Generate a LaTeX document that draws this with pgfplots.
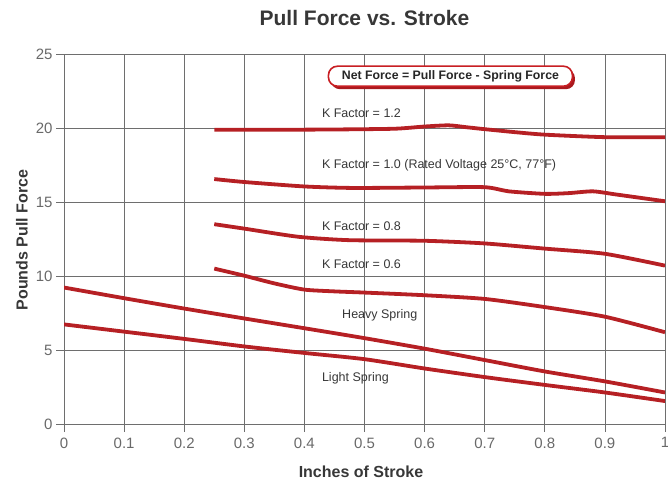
\documentclass[border=0pt]{standalone}
\usepackage{pgfplots}
\pgfplotsset{compat=1.18}
\usepackage{fontspec}
\setmainfont{Liberation Sans}
\usetikzlibrary{shadows}
\definecolor{curvered}{RGB}{182,32,36}
\definecolor{gridgray}{RGB}{110,110,110}
\definecolor{ticktext}{RGB}{105,105,105}
\definecolor{labeltext}{RGB}{55,55,55}
\definecolor{boxred}{RGB}{200,30,35}
\begin{document}
\begin{tikzpicture}
\begin{axis}[
  scale only axis,
  width=601pt, height=370pt,
  xmin=0, xmax=1, ymin=0, ymax=25,
  xtick={0,0.1,0.2,0.3,0.4,0.5,0.6,0.7,0.8,0.9,1},
  xticklabels={0,0.1,0.2,0.3,0.4,0.5,0.6,0.7,0.8,0.9,1},
  ytick={0,5,10,15,20,25},
  yticklabels={0,5,10,15,20,25},
  grid=major,
  grid style={draw=gridgray, line width=0.7pt},
  axis line style={draw=gridgray, line width=0.7pt},
  tick style={draw=gridgray, line width=0.7pt},
  tick align=outside,
  major tick length=8pt,
  xtick pos=lower, ytick pos=left,
  ticklabel style={font=\fontsize{15}{17}\selectfont, text=ticktext},
  xticklabel style={yshift=-2pt},
  /pgf/number format/assume math mode=true,
  clip=true,
]
% K Factor = 1.2
\addplot[curvered, line width=3.8pt, smooth, tension=0.4] coordinates {
(0.25,19.88) (0.35,19.88) (0.45,19.9) (0.55,19.95) (0.6,20.1) (0.64,20.18) (0.67,20.05) (0.7,19.92) (0.75,19.72) (0.8,19.55) (0.9,19.38) (1.0,19.38)};
% K Factor = 1.0
\addplot[curvered, line width=3.8pt, smooth, tension=0.4] coordinates {
(0.25,16.55) (0.3,16.35) (0.4,16.05) (0.48,15.95) (0.6,15.98) (0.7,16.0) (0.74,15.72) (0.8,15.55) (0.84,15.6) (0.88,15.72) (0.92,15.5) (1.0,15.05)};
% K Factor = 0.8
\addplot[curvered, line width=3.8pt, smooth, tension=0.4] coordinates {
(0.25,13.5) (0.3,13.2) (0.39,12.65) (0.475,12.42) (0.6,12.38) (0.7,12.2) (0.8,11.85) (0.9,11.5) (1.0,10.7)};
% K Factor = 0.6
\addplot[curvered, line width=3.8pt, smooth, tension=0.4] coordinates {
(0.25,10.5) (0.3,10.02) (0.35,9.5) (0.4,9.08) (0.45,8.96) (0.5,8.88) (0.6,8.7) (0.7,8.45) (0.8,7.9) (0.9,7.25) (1.0,6.2)};
% Heavy Spring
\addplot[curvered, line width=3.8pt, smooth, tension=0.4] coordinates {
(0,9.22) (0.1,8.5) (0.2,7.8) (0.3,7.13) (0.4,6.47) (0.5,5.8) (0.6,5.09) (0.7,4.32) (0.8,3.55) (0.9,2.88) (1.0,2.13)};
% Light Spring
\addplot[curvered, line width=3.8pt, smooth, tension=0.4] coordinates {
(0,6.73) (0.1,6.24) (0.2,5.75) (0.3,5.24) (0.4,4.8) (0.5,4.38) (0.6,3.75) (0.7,3.17) (0.8,2.64) (0.9,2.13) (1.0,1.55)};

\node[anchor=west, text=labeltext, font=\fontsize{12.5}{14}\selectfont, inner sep=0pt] at (axis cs:0.429,20.97) {K Factor = 1.2};
\node[anchor=west, text=labeltext, font=\fontsize{12.5}{14}\selectfont, inner sep=0pt] at (axis cs:0.429,17.5) {K Factor = 1.0 (Rated Voltage 25°C, 77°F)};
\node[anchor=west, text=labeltext, font=\fontsize{12.5}{14}\selectfont, inner sep=0pt] at (axis cs:0.429,13.38) {K Factor = 0.8};
\node[anchor=west, text=labeltext, font=\fontsize{12.5}{14}\selectfont, inner sep=0pt] at (axis cs:0.429,10.78) {K Factor = 0.6};
\node[anchor=west, text=labeltext, font=\fontsize{12.5}{14}\selectfont, inner sep=0pt] at (axis cs:0.4626,7.33) {Heavy Spring};
\node[anchor=west, text=labeltext, font=\fontsize{12.5}{14}\selectfont, inner sep=0pt] at (axis cs:0.429,3.12) {Light Spring};

\node[draw=boxred, line width=1.6pt, rounded corners=9pt, fill=white,
      general shadow={fill=boxred!85!black, shadow xshift=2.5pt, shadow yshift=-3pt},
      minimum width=244pt, minimum height=20pt, inner sep=0pt,
      font=\bfseries\fontsize{12.3}{14}\selectfont, text=black!85]
  at (axis cs:0.643,23.5) {Net Force = Pull Force - Spring Force};
\end{axis}
\node[font=\bfseries\fontsize{21}{24}\selectfont, text=labeltext] at (300.5pt,406pt) {Pull Force vs. Stroke};
\node[font=\bfseries\fontsize{16}{18}\selectfont, text=labeltext, rotate=90] at (-42pt,184pt) {Pounds Pull Force};
\node[font=\bfseries\fontsize{16}{18}\selectfont, text=labeltext] at (297pt,-48pt) {Inches of Stroke};
\pgfresetboundingbox
\path[use as bounding box] (-64pt,-57pt) rectangle (604pt,424pt);
\end{tikzpicture}
\end{document}
